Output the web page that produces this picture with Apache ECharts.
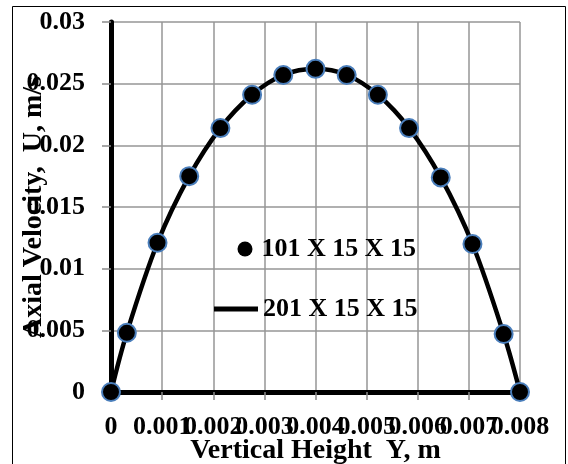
<!DOCTYPE html>
<html>
<head>
<meta charset="utf-8">
<script src="https://cdn.jsdelivr.net/npm/echarts@6/dist/echarts.min.js"></script>
<style>
html,body{margin:0;padding:0;background:#fff;}
#chart{width:568px;height:464px;}
</style>
</head>
<body>
<div id="chart"></div>
<script>
// Vertical height Y (m) of each point
var heights = [0, 0.00031, 0.00091, 0.00153, 0.00214, 0.00276, 0.00337, 0.004, 0.00461, 0.00522, 0.00583, 0.00645, 0.00707, 0.00768, 0.008];
// Axial velocity U (m/s), mesh 101 X 15 X 15 (markers)
var velocity101 = [0, 0.0048, 0.0121, 0.0175, 0.0214, 0.0241, 0.0257, 0.0262, 0.0257, 0.0241, 0.0214, 0.0174, 0.0120, 0.0047, 0];
// Axial velocity U (m/s), mesh 201 X 15 X 15 (curve)
var velocity201 = [0, 0.0048, 0.0121, 0.0175, 0.0214, 0.0241, 0.0257, 0.0262, 0.0257, 0.0241, 0.0214, 0.0174, 0.0120, 0.0047, 0];
var seriesNames = ['101 X 15 X 15', '201 X 15 X 15'];
var xTitle = 'Vertical Height  Y, m';
var yTitle = 'Axial Velocity,  U, m/s';

function pairs(xs, ys){ return xs.map(function(x,i){ return [x, ys[i]]; }); }

var font = 'Liberation Serif';
var labelStyle = {fontFamily: font, fontWeight: 'bold', fontSize: 26, color: '#000'};
var titleStyle = {fontFamily: font, fontWeight: 'bold', fontSize: 28, color: '#000'};
var chart = echarts.init(document.getElementById('chart'), null, {renderer:'canvas'});
chart.setOption({
  animation: false,
  backgroundColor: '#fff',
  graphic: [{
    type: 'rect', silent: true,
    shape: {x: 12.5, y: 6.5, width: 553, height: 480},
    style: {fill: 'none', stroke: '#000', lineWidth: 1}
  }],
  grid: {left: 111, top: 22, width: 409, height: 370, show: false,
         containLabel: false, outerBoundsMode: 'none'},
  legend: [{
    data: [{name: seriesNames[0], icon: 'circle', itemStyle: {color: '#000', borderWidth: 0}}],
    left: 237.5, top: 236, padding: 0, itemWidth: 23, itemHeight: 15, selectedMode: false,
    textStyle: labelStyle
  }, {
    data: [{name: seriesNames[1], icon: 'rect', itemStyle: {color: '#000'}}],
    left: 214, top: 296, padding: 0, itemWidth: 44, itemHeight: 5, selectedMode: false,
    textStyle: labelStyle
  }],
  xAxis: [{
    type: 'value', position: 'bottom', min: 0, max: 0.008, interval: 0.001,
    name: xTitle, nameLocation: 'middle', nameGap: 45, nameMoveOverlap: false,
    nameTextStyle: titleStyle,
    axisLine: {show: true, lineStyle: {color: '#5a5a5a', width: 4}},
    axisTick: {show: true, inside: false, length: 8, lineStyle: {color: '#8a8a8a', width: 1.5}},
    axisLabel: Object.assign({margin: 22, hideOverlap: false, showMinLabel: true, showMaxLabel: false}, labelStyle),
    splitLine: {show: true, lineStyle: {color: '#969696', width: 1.5}}
  }, {
    type: 'value', position: 'top', min: 0, max: 0.008,
    axisLine: {show: true, lineStyle: {color: '#000', width: 5}},
    axisTick: {show: false}, axisLabel: {show: false}, splitLine: {show: false}
  }, {
    // carries only the last tick label of the bottom axis
    type: 'value', position: 'bottom', min: 0, max: 0.008, interval: 0.001,
    axisLine: {show: false}, axisTick: {show: false}, splitLine: {show: false},
    axisLabel: Object.assign({margin: 22, hideOverlap: false, showMinLabel: true, showMaxLabel: true,
      formatter: function (v) { return v >= 0.008 ? String(v) : ''; }}, labelStyle)
  }],
  yAxis: [{
    type: 'value', position: 'left', min: 0, max: 0.03, interval: 0.005,
    name: yTitle, nameLocation: 'middle', nameGap: 63, nameRotate: 90, nameMoveOverlap: false,
    nameTextStyle: titleStyle,
    axisLine: {show: true, lineStyle: {color: '#5a5a5a', width: 4}},
    axisTick: {show: true, inside: false, length: 9, lineStyle: {color: '#8a8a8a', width: 1.5}},
    axisLabel: Object.assign({margin: 26, showMinLabel: true, showMaxLabel: true}, labelStyle),
    splitLine: {show: true, lineStyle: {color: '#969696', width: 1.5}}
  }, {
    type: 'value', position: 'right', min: 0, max: 0.03,
    axisLine: {show: true, lineStyle: {color: '#000', width: 5}},
    axisTick: {show: false}, axisLabel: {show: false}, splitLine: {show: false}
  }],
  series: [{
    name: seriesNames[1], type: 'line', smooth: 0.35, symbol: 'none',
    xAxisIndex: 0, yAxisIndex: 0,
    lineStyle: {color: '#000', width: 4.5}, itemStyle: {color: '#000'},
    data: pairs(heights, velocity201), z: 3
  }, {
    name: seriesNames[0], type: 'scatter', symbol: 'circle', symbolSize: 18,
    xAxisIndex: 0, yAxisIndex: 0,
    itemStyle: {color: '#000', borderColor: '#4a7ebb', borderWidth: 2, opacity: 1},
    data: pairs(heights, velocity101), z: 4
  }]
});
</script>
</body>
</html>
